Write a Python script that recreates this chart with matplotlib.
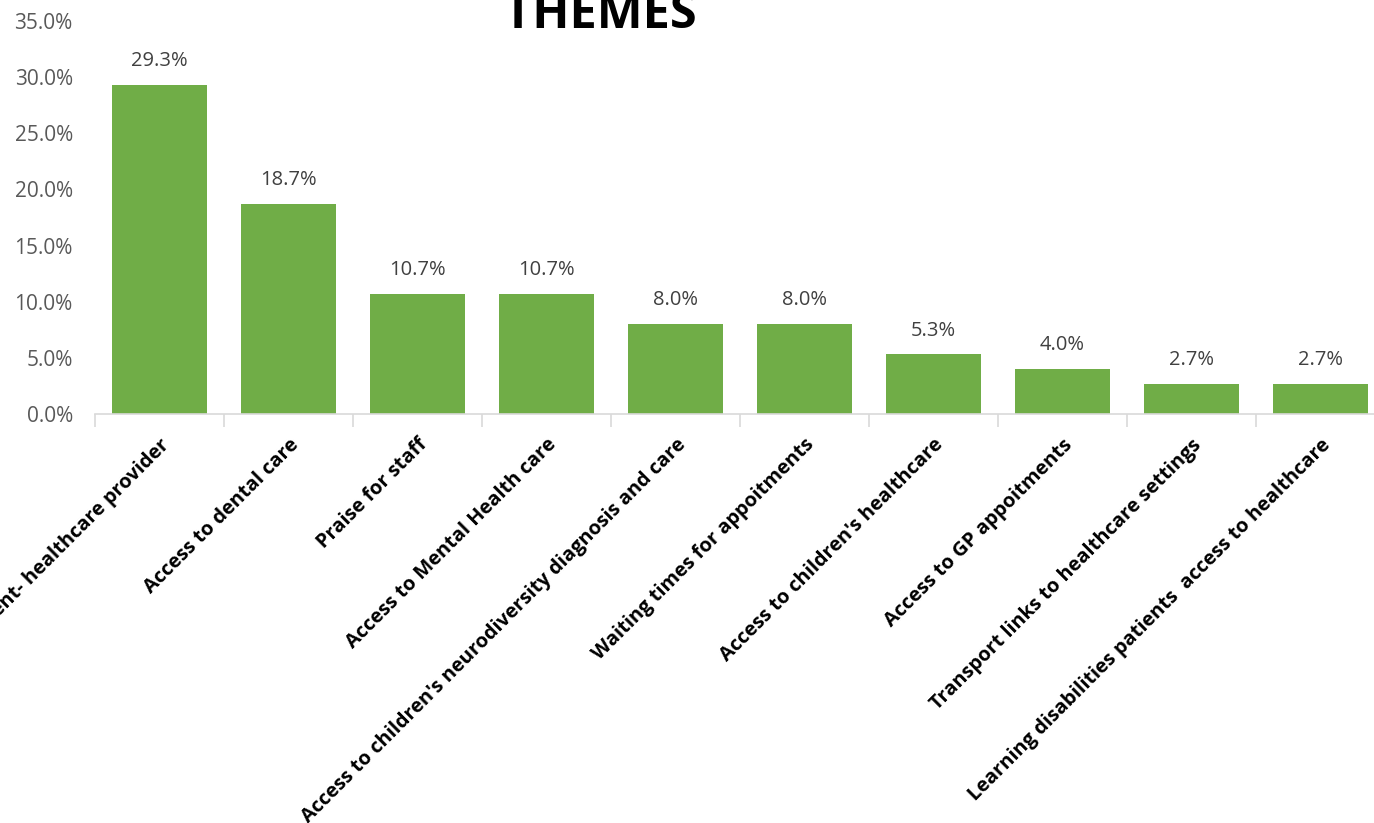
import numpy as np
import matplotlib.pyplot as plt
from matplotlib.ticker import FuncFormatter

# themes and share of comments
themes = [
    "Communication between patient- healthcare provider",
    "Access to dental care",
    "Praise for staff",
    "Access to Mental Health care",
    "Access to children's neurodiversity diagnosis and care",
    "Waiting times for appoitments",
    "Access to children's healthcare",
    "Access to GP appoitments",
    "Transport links to healthcare settings",
    "Learning disabilities patients  access to healthcare",
]
shares = [29.3, 18.7, 10.7, 10.7, 8.0, 8.0, 5.3, 4.0, 2.7, 2.7]
yticks = [0, 5, 10, 15, 20, 25, 30, 35]

plt.rcParams['font.family'] = ['Open Sans', 'DejaVu Sans']

fig = plt.figure(figsize=(13.74, 8.23), dpi=100)
ax = fig.add_axes([95 / 1374, 409 / 823, 1290 / 1374, 393 / 823])

x = np.arange(len(themes))
ax.bar(x, shares, width=0.74, color='#70AD47', zorder=2)

for xi, v in zip(x, shares):
    ax.annotate(f"{v:.1f}%", (xi, v), xytext=(0, 10), textcoords='offset points',
                ha='center', va='bottom', fontsize=14.5, color='#404040')

ax.set_xlim(-0.5, len(themes) - 0.5)
ax.set_ylim(0, 35)
ax.set_yticks(yticks)
ax.yaxis.set_major_formatter(FuncFormatter(lambda v, p: f"{v:.1f}%"))
ax.tick_params(axis='y', length=0, labelsize=15, labelcolor='#595959', pad=16)

# category boundaries as tick marks, labels at centres
ax.set_xticks(np.arange(len(themes) + 1) - 0.5)
ax.set_xticklabels([])
ax.tick_params(axis='x', which='major', length=9, width=1.2, color='#D9D9D9', direction='out')
ax.set_xticks(x, minor=True)
ax.set_xticklabels(themes, minor=True, rotation=45, ha='right', va='top',
                   rotation_mode='anchor', fontsize=14.4, fontweight='bold', color='black')
ax.tick_params(axis='x', which='minor', length=0, pad=15)

for s in ['top', 'right', 'left']:
    ax.spines[s].set_visible(False)
ax.spines['bottom'].set_color('#D9D9D9')
ax.spines['bottom'].set_linewidth(1.2)

fig.text(600 / 1374, (823 - 28) / 823, "THEMES", ha='center', va='baseline',
         fontsize=35, fontweight='bold', color='black')

fig.savefig('out.png', dpi=100)
